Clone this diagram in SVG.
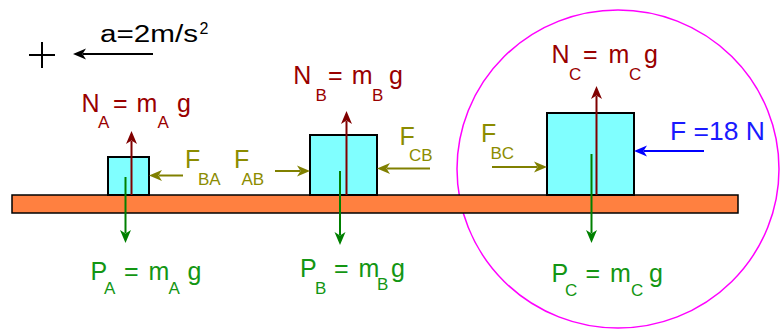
<svg xmlns="http://www.w3.org/2000/svg" width="780" height="329" viewBox="0 0 780 329">
<style>
text{font-family:"Liberation Sans",Arial,sans-serif;font-size:25px}
.sub{font-size:17px}
.nr{fill:#990000}
.gr{fill:#139613}
.ol{fill:#8c8c00}
.bl{fill:#1a1aff}
.blk{fill:#000}
.block{fill:#80ffff;stroke:#000;stroke-width:2}
.plank{fill:#ff8040;stroke:#000;stroke-width:1.5}
.a-nr{stroke:#800000;stroke-width:2;fill:none;marker-end:url(#mNr)}
.a-gr{stroke:#008000;stroke-width:2;fill:none;marker-end:url(#mGr)}
.a-ol{stroke:#808000;stroke-width:2;fill:none;marker-end:url(#mOl)}
.a-bl{stroke:#0000ff;stroke-width:2;fill:none;marker-end:url(#mBl)}
.a-bk{stroke:#000;stroke-width:2;fill:none;marker-end:url(#mBk)}
</style>
<defs>
<marker id="mNr" markerUnits="userSpaceOnUse" markerWidth="14" markerHeight="12" refX="3" refY="5.5" orient="auto" overflow="visible"><path d="M13,5.5 L0,0 L3.5,5.5 L0,11 Z" fill="#800000"/></marker>
<marker id="mGr" markerUnits="userSpaceOnUse" markerWidth="14" markerHeight="12" refX="3" refY="5.5" orient="auto" overflow="visible"><path d="M13,5.5 L0,0 L3.5,5.5 L0,11 Z" fill="#008000"/></marker>
<marker id="mOl" markerUnits="userSpaceOnUse" markerWidth="14" markerHeight="12" refX="3" refY="5.5" orient="auto" overflow="visible"><path d="M13,5.5 L0,0 L3.5,5.5 L0,11 Z" fill="#808000"/></marker>
<marker id="mBl" markerUnits="userSpaceOnUse" markerWidth="14" markerHeight="12" refX="3" refY="5.5" orient="auto" overflow="visible"><path d="M13,5.5 L0,0 L3.5,5.5 L0,11 Z" fill="#0000ff"/></marker>
<marker id="mBk" markerUnits="userSpaceOnUse" markerWidth="14" markerHeight="12" refX="3" refY="5.5" orient="auto" overflow="visible"><path d="M13,5.5 L0,0 L3.5,5.5 L0,11 Z" fill="#000"/></marker>
</defs>
<rect width="780" height="329" fill="#fff"/>

<g id="sign">
<path d="M29,55 H55 M42,42 V68" stroke="#000" stroke-width="2" fill="none"/>
</g>
<g id="accel-label">
<text class="blk" x="100" y="41.7" textLength="98" lengthAdjust="spacingAndGlyphs" style="font-size:23px">a=2m/s</text>
<text class="blk" x="199.5" y="33.5" style="font-size:16px">2</text>
</g>

<g id="system-circle">
<ellipse cx="618" cy="169" rx="161" ry="159" fill="none" stroke="#ff00ff" stroke-width="1.5"/>
</g>

<g id="plank"><rect class="plank" x="12" y="195" width="726" height="18"/></g>
<g id="block-A"><rect class="block" x="108" y="157" width="41" height="38"/></g>
<g id="block-B"><rect class="block" x="310" y="135" width="67" height="60"/></g>
<g id="block-C"><rect class="block" x="547" y="113" width="87" height="82"/></g>

<g id="connectors">
<line class="a-bk" x1="153" y1="54" x2="83" y2="54"/>
<line class="a-nr" x1="131.5" y1="195" x2="131.5" y2="141"/>
<line class="a-nr" x1="346.5" y1="195" x2="346.5" y2="121"/>
<line class="a-nr" x1="596.5" y1="195" x2="596.5" y2="96"/>
<line class="a-gr" x1="125.5" y1="177" x2="125.5" y2="233"/>
<line class="a-gr" x1="340" y1="171" x2="340" y2="235"/>
<line class="a-gr" x1="591.5" y1="154" x2="591.5" y2="233"/>
<line class="a-ol" x1="183" y1="175.5" x2="159" y2="175.5"/>
<line class="a-ol" x1="275" y1="171" x2="300" y2="171"/>
<line class="a-ol" x1="430" y1="168.5" x2="387" y2="168.5"/>
<line class="a-ol" x1="492" y1="167" x2="537" y2="167"/>
<line class="a-bl" x1="704" y1="151" x2="644" y2="151"/>
</g>

<g id="label-NA"><text class="nr"><tspan x="81.5" y="112">N</tspan><tspan class="sub" x="98" y="128">A</tspan><tspan x="113" y="112">=</tspan><tspan x="136.5" y="112">m</tspan><tspan class="sub" x="157.5" y="128">A</tspan><tspan x="177" y="112">g</tspan></text></g>
<g id="label-NB"><text class="nr"><tspan x="293.2" y="84.3">N</tspan><tspan class="sub" x="315.5" y="101">B</tspan><tspan x="328" y="84.3">=</tspan><tspan x="351.7" y="84.3">m</tspan><tspan class="sub" x="372" y="101">B</tspan><tspan x="389" y="84.3">g</tspan></text></g>
<g id="label-NC"><text class="nr"><tspan x="551.5" y="63.3">N</tspan><tspan class="sub" x="569" y="80">C</tspan><tspan x="583" y="63.3">=</tspan><tspan x="608.5" y="63.3">m</tspan><tspan class="sub" x="629" y="80">C</tspan><tspan x="644" y="63.3">g</tspan></text></g>

<g id="label-PA"><text class="gr"><tspan x="90.5" y="280">P</tspan><tspan class="sub" x="104" y="294">A</tspan><tspan x="124" y="280">=</tspan><tspan x="148.5" y="280">m</tspan><tspan class="sub" x="168.5" y="294">A</tspan><tspan x="187.5" y="280">g</tspan></text></g>
<g id="label-PB"><text class="gr"><tspan x="300" y="276.7">P</tspan><tspan class="sub" x="315" y="294">B</tspan><tspan x="334" y="276.7">=</tspan><tspan x="358.5" y="276.7">m</tspan><tspan class="sub" x="377" y="290">B</tspan><tspan x="391" y="276.7">g</tspan></text></g>
<g id="label-PC"><text class="gr"><tspan x="551.5" y="281.7">P</tspan><tspan class="sub" x="565" y="296">C</tspan><tspan x="585.5" y="281.7">=</tspan><tspan x="610" y="281.7">m</tspan><tspan class="sub" x="631" y="296">C</tspan><tspan x="649" y="281.7">g</tspan></text></g>

<g id="label-FBA"><text class="ol"><tspan x="185" y="168.3">F</tspan><tspan class="sub" x="198" y="185">BA</tspan></text></g>
<g id="label-FAB"><text class="ol"><tspan x="234" y="168.3">F</tspan><tspan class="sub" x="241.5" y="185">AB</tspan></text></g>
<g id="label-FCB"><text class="ol"><tspan x="399.5" y="145">F</tspan><tspan class="sub" x="409" y="160.5">CB</tspan></text></g>
<g id="label-FBC"><text class="ol"><tspan x="481" y="141.7">F</tspan><tspan class="sub" x="490.5" y="159">BC</tspan></text></g>
<g id="label-F"><text class="bl" x="670" y="140" textLength="95" lengthAdjust="spacingAndGlyphs">F =18 N</text></g>
</svg>
